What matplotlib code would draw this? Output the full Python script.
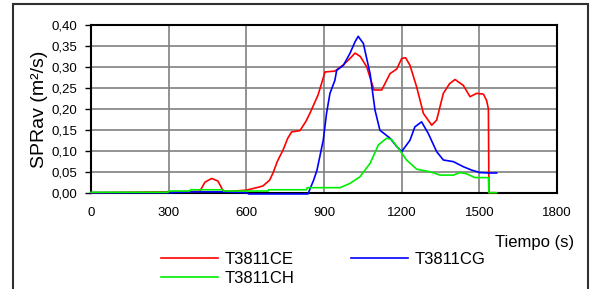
import matplotlib
matplotlib.use("Agg")
import matplotlib.pyplot as plt
from matplotlib.ticker import FuncFormatter, MultipleLocator
from matplotlib.patches import Rectangle

plt.rcParams['font.family'] = ['Liberation Sans', 'DejaVu Sans']

# --- data ---
ce_t = [0, 300, 420, 440, 466, 490, 510, 530, 600, 640, 664, 690, 703, 720, 742, 760, 775, 807, 830, 846,
        877, 904, 942, 975, 1000, 1020, 1040, 1065, 1093, 1123, 1155, 1181, 1200, 1215, 1232, 1258, 1284,
        1316, 1335, 1361, 1385, 1406, 1438, 1464, 1490, 1516, 1528, 1535, 1537, 1560]
ce_v = [0, 0.002, 0.003, 0.025, 0.034, 0.028, 0.005, 0.003, 0.006, 0.012, 0.016, 0.03, 0.047, 0.075, 0.102,
        0.13, 0.145, 0.148, 0.17, 0.19, 0.233, 0.288, 0.29, 0.305, 0.32, 0.333, 0.325, 0.30, 0.245, 0.245,
        0.284, 0.295, 0.32, 0.322, 0.304, 0.252, 0.189, 0.161, 0.173, 0.237, 0.26, 0.27, 0.256, 0.229,
        0.237, 0.235, 0.22, 0.2, 0.0, 0.0]

cg_t = [0, 300, 390, 510, 600, 610, 838, 846, 860, 873, 897, 910, 923, 942, 949, 975, 1000, 1020, 1032,
        1052, 1078, 1097, 1116, 1155, 1181, 1200, 1232, 1251, 1277, 1303, 1335, 1361, 1400, 1438, 1470,
        1502, 1535, 1567]
cg_v = [0, 0, 0.002, 0.002, 0.0, -0.003, -0.003, 0.009, 0.03, 0.054, 0.125, 0.19, 0.237, 0.268, 0.292,
        0.304, 0.332, 0.36, 0.373, 0.356, 0.284, 0.197, 0.149, 0.13, 0.11, 0.098, 0.125, 0.157, 0.169,
        0.141, 0.098, 0.078, 0.074, 0.062, 0.054, 0.048, 0.047, 0.047]

ch_t = [0, 298, 300, 382, 385, 510, 512, 684, 686, 833, 835, 962, 1000, 1039, 1078, 1110, 1142, 1161,
        1187, 1219, 1258, 1309, 1348, 1400, 1425, 1451, 1483, 1535, 1537, 1567]
ch_v = [0.001, 0.001, 0.004, 0.004, 0.007, 0.007, 0.004, 0.004, 0.007, 0.007, 0.012, 0.012, 0.022,
        0.038, 0.07, 0.114, 0.13, 0.127, 0.106, 0.078, 0.056, 0.05, 0.042, 0.042, 0.048, 0.045, 0.036,
        0.036, 0.0, 0.0]

series_names = ['T3811CE', 'T3811CG', 'T3811CH']
xticks = [0, 300, 600, 900, 1200, 1500, 1800]

fig = plt.figure(figsize=(5.92, 2.89), dpi=100)
ax = fig.add_axes([91/592, 1-192.7/289, 466/592, (192.7-25)/289])

l_ce, = ax.plot(ce_t, ce_v, color='#ff0000', lw=1.2, clip_on=False, zorder=3)
l_cg, = ax.plot(cg_t, cg_v, color='#0000ff', lw=1.2, clip_on=False, zorder=3)
l_ch, = ax.plot(ch_t, ch_v, color='#00ee00', lw=1.2, clip_on=False, zorder=3)

ax.set_xlim(0, 1800)
ax.set_ylim(0, 0.40)
ax.set_xticks(xticks)
ax.yaxis.set_major_locator(MultipleLocator(0.05))
ax.yaxis.set_major_formatter(FuncFormatter(lambda v, p: f"{v:.2f}".replace('.', ',')))
ax.grid(True, color='#808080', lw=1.2)
ax.set_axisbelow(True)
for s in ax.spines.values():
    s.set_color('black')
    s.set_linewidth(1.5)
ax.tick_params(axis='y', length=4, width=1, pad=6, labelsize=9.5)
ax.tick_params(axis='x', length=0, pad=10, labelsize=9.5)
ax.set_ylabel('SPRav (m²/s)', fontsize=14, labelpad=2)
fig.text(535/592, 1-242/289, 'Tiempo (s)', fontsize=12, ha='center', va='center')

leg = fig.legend([l_ce, l_ch, l_cg], [series_names[0], series_names[2], series_names[1]],
                 ncol=2, loc='upper left', bbox_to_anchor=(161/592, 1-252/289), frameon=False,
                 fontsize=12, handlelength=3.4, handletextpad=0.4, columnspacing=3.4,
                 labelspacing=0.25, borderpad=0, borderaxespad=0)

fig.add_artist(Rectangle((13/592, -0.05), (588-13)/592, 1.05-4/289, transform=fig.transFigure,
                         fill=False, edgecolor='#303030', lw=1.5, clip_on=False))

fig.savefig('out.png', dpi=100)
